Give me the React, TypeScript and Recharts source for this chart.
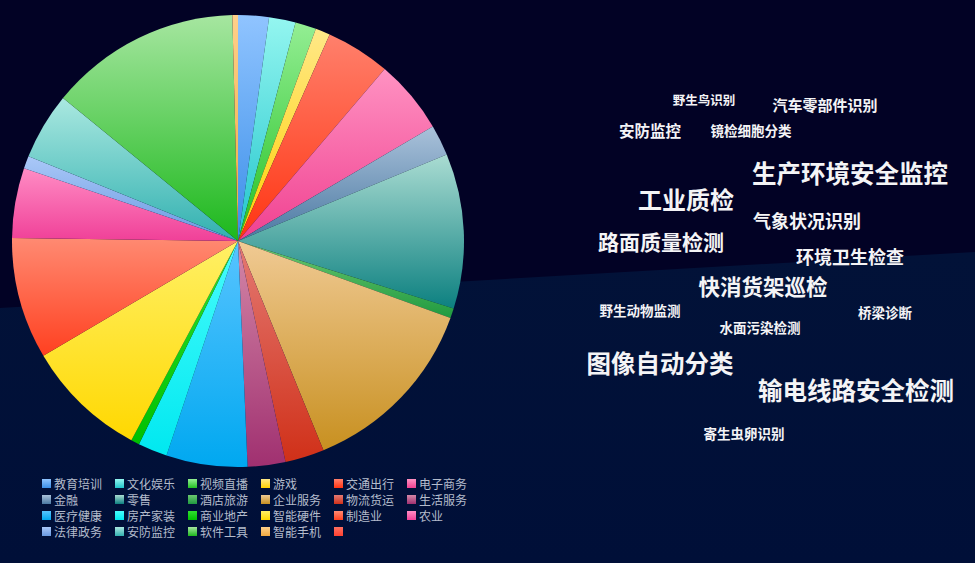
import { PieChart, Pie, Cell, Legend } from 'recharts'

// 行业占比（按图中扇形角度估读，单位 %）
const categories = [
  '教育培训', '文化娱乐', '视频直播', '游戏', '交通出行', '电子商务',
  '金融', '零售', '酒店旅游', '企业服务', '物流货运', '生活服务',
  '医疗健康', '房产家装', '商业地产', '智能硬件', '制造业', '农业',
  '法律政务', '安防监控', '软件工具', '智能手机', ''
]
const shares = [
  2.2, 1.9, 1.5, 1.05, 4.6, 5.3,
  2.2, 11.1, 0.7, 13.3, 2.8, 2.7,
  5.8, 2.1, 0.6, 8.7, 8.7, 5.0,
  0.9, 4.8, 13.7, 0.4, 0
]
const topColors = [
  '#90c4ff', '#94f6f0', '#94ee94', '#ffe888', '#ff806c', '#ff92c2',
  '#aac2da', '#aadcd2', '#6cc870', '#f0ca94', '#e47a74', '#d488a8',
  '#58c4ff', '#48fcfc', '#30e030', '#fff066', '#ff8a72', '#ff8cc4',
  '#aac8f8', '#aae8e0', '#a6e6a0', '#ffd08a', '#ff7060'
]
const bottomColors = [
  '#3a8ee8', '#20c4cc', '#22c022', '#ffd000', '#ff3412', '#f04090',
  '#4a78a2', '#0c8080', '#209a40', '#c89020', '#d03018', '#a03070',
  '#00a8f0', '#00e8f0', '#00c000', '#ffd800', '#ff4020', '#f04098',
  '#6898e0', '#30b0b0', '#1cb81c', '#f0a840', '#ff4030'
]

// 词云
const words = [
  '野生鸟识别', '汽车零部件识别', '安防监控', '镜检细胞分类', '生产环境安全监控',
  '工业质检', '气象状况识别', '路面质量检测', '环境卫生检查', '快消货架巡检',
  '野生动物监测', '桥梁诊断', '水面污染检测', '图像自动分类', '输电线路安全检测',
  '寄生虫卵识别'
]
const wordWeights = [12.5, 15, 15.5, 13.5, 24.5, 24, 18, 21, 18, 21.5, 13.5, 13.5, 13.5, 24.5, 24.5, 13.5]
const wordSpots = [
  [704, 100], [825, 104], [650, 131], [751, 131], [850, 173],
  [686, 199], [807, 220], [661, 241], [850, 256], [763, 286],
  [640, 311], [885, 313], [760, 328], [660, 363], [856, 390],
  [744, 434]
]

const pieData = categories.map((name, i) => ({ name, value: shares[i] }))

const W = 975
const H = 563

function renderLegend() {
  return (
    <div
      style={{
        display: 'grid',
        gridTemplateColumns: 'repeat(6, 73px)',
        rowGap: 2,
        fontFamily: '"Noto Sans CJK SC", sans-serif',
        fontSize: 12,
        color: '#b4bccc'
      }}
    >
      {categories.map((name, i) => (
        <div key={i} style={{ display: 'flex', alignItems: 'center', height: 14 }}>
          <span
            style={{
              width: 9,
              height: 9,
              marginRight: 3,
              background: `linear-gradient(${topColors[i]}, ${bottomColors[i]})`
            }}
          />
          <span>{name}</span>
        </div>
      ))}
    </div>
  )
}

export default function App() {
  return (
    <div
      style={{
        position: 'fixed',
        left: 0,
        top: 0,
        width: W,
        height: H,
        overflow: 'hidden',
        background: '#020225'
      }}
    >
      <svg width={W} height={H} style={{ position: 'absolute', left: 0, top: 0 }}>
        <defs>
          <linearGradient id="lower" x1="0" y1="0" x2="0" y2="1">
            <stop offset="0%" stopColor="#021238" />
            <stop offset="100%" stopColor="#000f38" />
          </linearGradient>
        </defs>
        <polygon points={`0,308 ${W},252 ${W},${H} 0,${H}`} fill="url(#lower)" />
      </svg>
      <PieChart
        width={W}
        height={H}
        margin={{ top: 0, right: 0, bottom: 0, left: 0 }}
        style={{ position: 'absolute', left: 0, top: 0 }}
      >
        <defs>
          {topColors.map((c, i) => (
            <linearGradient key={i} id={`slice${i}`} x1="0" y1="0" x2="0" y2="1">
              <stop offset="0%" stopColor={c} />
              <stop offset="100%" stopColor={bottomColors[i]} />
            </linearGradient>
          ))}
        </defs>
        <Pie
          data={pieData}
          dataKey="value"
          nameKey="name"
          cx={238}
          cy={241}
          outerRadius={226}
          startAngle={90}
          endAngle={-270}
          stroke="none"
          isAnimationActive={false}
        >
          {pieData.map((_, i) => (
            <Cell key={i} fill={`url(#slice${i})`} />
          ))}
        </Pie>
        <Legend
          content={renderLegend}
          wrapperStyle={{ left: 42, top: 476, width: 460 }}
        />
      </PieChart>
      {words.map((w, i) => (
        <div
          key={w + i}
          style={{
            position: 'absolute',
            left: wordSpots[i][0],
            top: wordSpots[i][1],
            transform: 'translate(-50%, -50%)',
            whiteSpace: 'nowrap',
            fontFamily: '"Noto Sans CJK SC", sans-serif',
            fontWeight: 700,
            fontSize: wordWeights[i],
            color: '#f4f4f6',
            lineHeight: 1
          }}
        >
          {w}
        </div>
      ))}
    </div>
  )
}
